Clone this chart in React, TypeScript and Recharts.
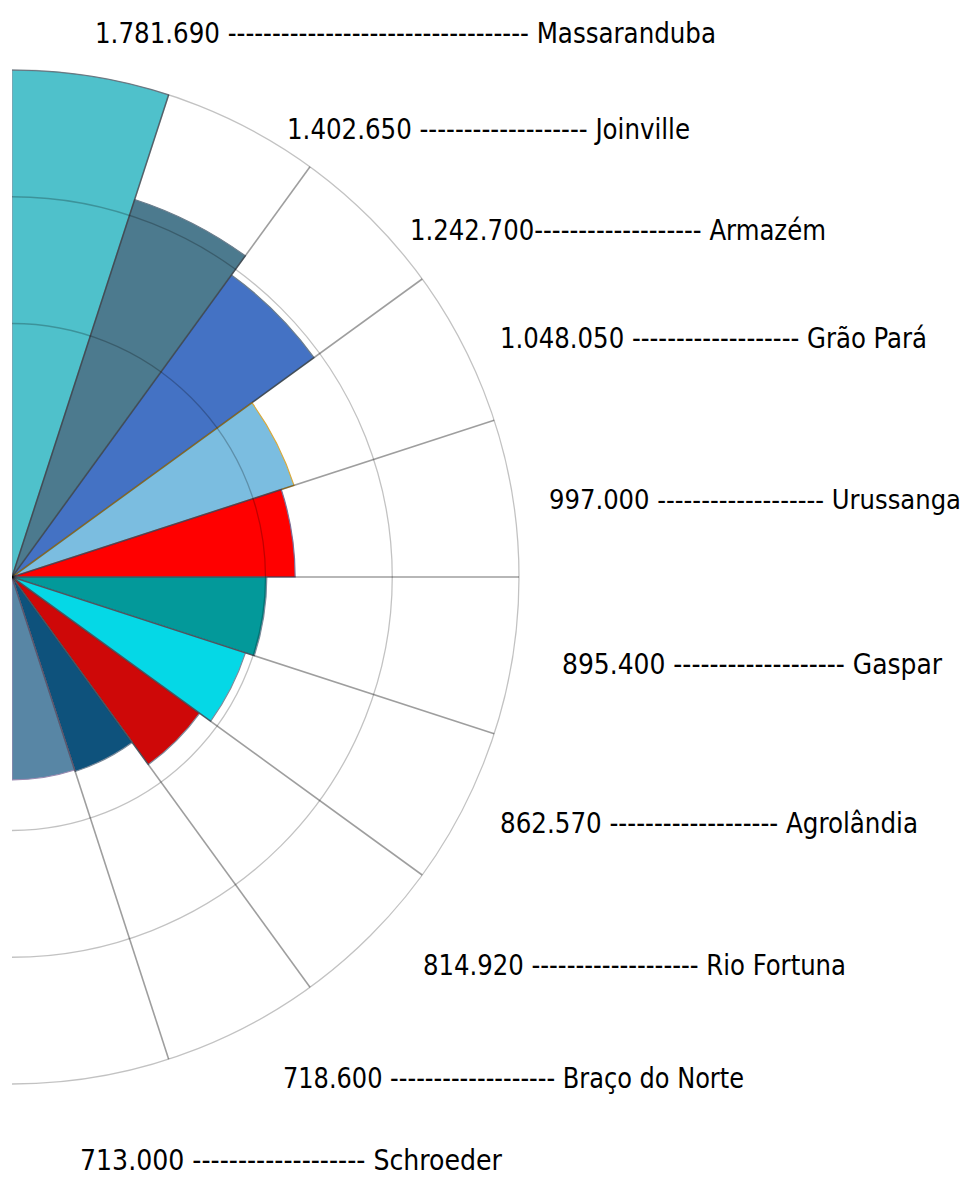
import React from "react";
import {
  RadialBarChart,
  RadialBar,
  PolarAngleAxis,
  PolarRadiusAxis,
  PolarGrid,
  Cell,
} from "recharts";

// cities, clockwise from the top
const cities = [
  "Massaranduba",
  "Joinville",
  "Armazém",
  "Grão Pará",
  "Urussanga",
  "Gaspar",
  "Agrolândia",
  "Rio Fortuna",
  "Braço do Norte",
  "Schroeder",
];
// numbers printed in the annotations
const labelValues = [1781690, 1402650, 1242700, 1048050, 997000, 895400, 862570, 814920, 718600, 713000];
// wedge lengths as drawn in the picture
const values = [1781690, 1395000, 1312000, 1042000, 995000, 895400, 862570, 814920, 718600, 713000];
const dashCounts = [34, 19, 19, 19, 19, 19, 19, 19, 19, 19];
const spaceAfterNumber = [true, true, false, true, true, true, true, true, true, true];

const colors = [
  "#4fc1cb",
  "#4c7a8e",
  "#4472c4",
  "#7bbde0",
  "#ff0000",
  "#03999a",
  "#05d8e6",
  "#ce0808",
  "#0e527c",
  "#5886a5",
];
const strokes = [
  "#8a9aa8",
  "#6b7d8c",
  "#6b7d8c",
  "#d9a93a",
  "#7b6e96",
  "#7b8a9a",
  "#7b8a9a",
  "#7b8a9a",
  "#7b8a9a",
  "#9a8ab0",
];

// where each annotation sits on the page: start x, baseline y, total width, font size
const labelLayout = [
  { x: 95, y: 43, w: 621, size: 28 },
  { x: 287, y: 139, w: 403, size: 28 },
  { x: 410, y: 240, w: 416, size: 28 },
  { x: 500, y: 348, w: 427, size: 28 },
  { x: 549, y: 509, w: 412, size: 27 },
  { x: 562, y: 674, w: 380, size: 28 },
  { x: 500, y: 833, w: 418, size: 28 },
  { x: 423, y: 975, w: 423, size: 28 },
  { x: 283, y: 1088, w: 461, size: 28 },
  { x: 80, y: 1170, w: 422, size: 28 },
];

const fmt = (n: number) => String(n).replace(/\B(?=(\d{3})+(?!\d))/g, ".");

const data = cities.map((name, i) => ({ name, value: values[i] }));
const maxValue = Math.max(...values);

const CX = 12;
const CY = 577;
const R = 507;
const step = 180 / cities.length;
// borders between neighbouring wedges (the two vertical edges are not drawn)
const wedgeEdges = Array.from({ length: cities.length - 1 }, (_, i) => 90 - (i + 1) * step);

export default function App() {
  return (
    <div style={{ position: "absolute", left: 0, top: 0, width: 968, height: 1177, background: "#fff" }}>
      <div style={{ position: "absolute", left: CX, top: 0, width: 968 - CX, height: 1177, overflow: "hidden" }}>
        <RadialBarChart
          width={968 - CX}
          height={1177}
          data={data}
          cx={0}
          cy={CY}
          innerRadius={0}
          outerRadius={R}
          startAngle={90 - step}
          endAngle={-90 - step}
          layout="centric"
          barCategoryGap={0}
          barGap={0}
          margin={{ top: 0, right: 0, bottom: 0, left: 0 }}
        >
          <PolarAngleAxis type="category" dataKey="name" tick={false} axisLine={false} tickLine={false} />
          <PolarRadiusAxis
            type="number"
            domain={[0, maxValue]}
            allowDataOverflow
            tick={false}
            axisLine={false}
            tickLine={false}
          />
          <RadialBar dataKey="value" isAnimationActive={false}>
            {data.map((d, i) => (
              <Cell key={d.name} fill={colors[i]} stroke={strokes[i]} strokeWidth={1.2} />
            ))}
          </RadialBar>
          <PolarGrid
            gridType="circle"
            radialLines={false}
            polarAngles={[]}
            polarRadius={[R / 2, (R * 3) / 4, R]}
            stroke="rgba(0,0,0,0.24)"
            strokeWidth={1.3}
            zIndex={1000}
          />
          <PolarGrid
            gridType="circle"
            radialLines
            polarAngles={wedgeEdges}
            polarRadius={[]}
            stroke="rgba(0,0,0,0.38)"
            strokeWidth={1.6}
            zIndex={1001}
          />
        </RadialBarChart>
      </div>
      <svg
        width={968}
        height={1177}
        style={{ position: "absolute", left: 0, top: 0, pointerEvents: "none" }}
      >
        {cities.map((city, i) => (
          <text
            key={city}
            x={labelLayout[i].x}
            y={labelLayout[i].y}
            textLength={labelLayout[i].w}
            lengthAdjust="spacingAndGlyphs"
            fontSize={labelLayout[i].size}
            fill="#000"
            fontFamily="'Liberation Sans Narrow', 'DejaVu Sans Condensed', 'Roboto', sans-serif"
          >
            {`${fmt(labelValues[i])}${spaceAfterNumber[i] ? " " : ""}${"-".repeat(dashCounts[i])} ${city}`}
          </text>
        ))}
      </svg>
    </div>
  );
}
